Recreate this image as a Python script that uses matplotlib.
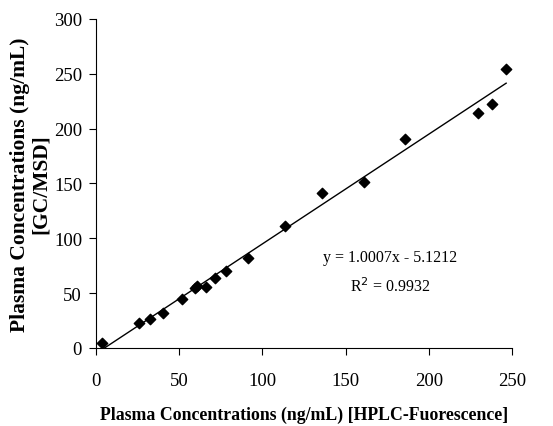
import numpy as np
import matplotlib.pyplot as plt

# HPLC-Fluorescence vs GC/MSD plasma concentrations (ng/mL)
hplc = [3.4, 25.7, 32.5, 40.5, 51.5, 59.5, 60.7, 65.8, 71.4, 78.2, 91.2,
        113.3, 135.7, 160.8, 185.8, 229.5, 237.8, 246.4]
gcmsd = [4.3, 22.8, 26.4, 32.2, 45.0, 54.4, 56.8, 55.6, 63.8, 70.5, 82.4,
         111.6, 141.0, 151.4, 190.3, 214.3, 222.5, 254.4]
slope = 1.0007
intercept = -5.1212
r2 = 0.9932

plt.rcParams['font.family'] = ['Liberation Serif', 'DejaVu Serif']

fig = plt.figure(figsize=(5.53, 4.27), dpi=100)
ax = fig.add_axes([0.1736, 0.1827, 0.7525, 0.7705])

ax.scatter(hplc, gcmsd, marker='D', s=28, color='black', zorder=3)

xl = np.array([min(hplc), max(hplc)])
ax.plot(xl, slope * xl + intercept, color='black', linewidth=1.0)

ax.set_xlim(0, 250)
ax.set_ylim(0, 300)
ax.set_xticks(np.arange(0, 251, 50))
ax.set_yticks(np.arange(0, 301, 50))
ax.spines['top'].set_visible(False)
ax.spines['right'].set_visible(False)
ax.tick_params(axis='x', direction='out', length=5, pad=12, labelsize=13.5)
ax.tick_params(axis='y', direction='out', length=5, pad=5, labelsize=13.5)

ax.set_xlabel('Plasma Concentrations (ng/mL) [HPLC-Fuorescence]',
              fontsize=12.8, fontweight='bold', labelpad=12)
ax.set_ylabel('Plasma Concentrations (ng/mL)\n[GC/MSD]',
              fontsize=15.5, fontweight='bold', labelpad=2, linespacing=1.05)

ax.text(176.7, 83, f'y = {slope:.4f}x - {-intercept:.4f}', ha='center', va='center', fontsize=11.5)
ax.text(176.7, 56.5, f'R$^2$ = {r2:.4f}', ha='center', va='center', fontsize=11.5)

fig.savefig('out.png', dpi=100)
